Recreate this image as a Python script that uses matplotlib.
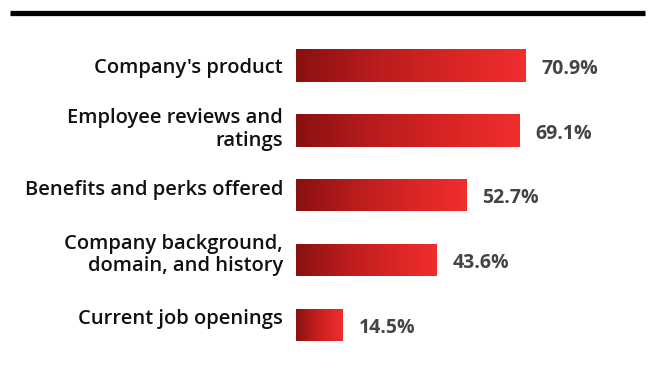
import matplotlib
matplotlib.use("Agg")
import matplotlib.pyplot as plt
import numpy as np
from matplotlib.colors import LinearSegmentedColormap
from matplotlib.patches import Rectangle
from matplotlib.lines import Line2D
from matplotlib.transforms import ScaledTranslation

categories = [
    "Company's product",
    "Employee reviews and\nratings",
    "Benefits and perks offered",
    "Company background,\ndomain, and history",
    "Current job openings",
]
values = [70.9, 69.1, 52.7, 43.6, 14.5]
value_labels = ["70.9%", "69.1%", "52.7%", "43.6%", "14.5%"]

plt.rcParams['font.family'] = ['Open Sans', 'DejaVu Sans']

W, H = 654, 377
fig = plt.figure(figsize=(W / 100, H / 100), dpi=100)
fig.patch.set_facecolor("white")

ax_left = 296 / W
ax_right = 619 / W
ax_top = 1 - 33 / H
ax_bot = 1 - 357.5 / H
ax = fig.add_axes([ax_left, ax_bot, ax_right - ax_left, ax_top - ax_bot])

cmap = LinearSegmentedColormap.from_list(
    "redgrad", ["#8a1010", "#b81c1c", "#d82424", "#f02e2e"])
grad = np.linspace(0, 1, 256).reshape(1, -1)

bar_h = 0.5
for i, v in enumerate(values):
    rect = Rectangle((0, i - bar_h / 2), v, bar_h, facecolor="none",
                     edgecolor="none")
    ax.add_patch(rect)
    im = ax.imshow(grad, cmap=cmap, aspect="auto",
                   extent=[0, v, i + bar_h / 2, i - bar_h / 2],
                   interpolation="bicubic", zorder=2)
    im.set_clip_path(rect)
    ax.text(v + 5, i + 0.05, value_labels[i], ha="left", va="center",
            fontsize=14, fontweight="bold", color="#444444")

ax.set_xlim(0, 100)
ax.set_ylim(4.5, -0.5)
ax.set_yticks(range(len(categories)))
ax.set_yticklabels(categories, fontsize=14.5, fontweight="semibold",
                   color="#111111", linespacing=1.18)
ax.tick_params(axis="y", length=0, pad=9.4)
ax.set_xticks([])
for s in ax.spines.values():
    s.set_visible(False)
ax.set_facecolor("none")

label_shift_px = [0, 5, 7.5, 9, 9]
for lab, shift in zip(ax.get_yticklabels(), label_shift_px):
    lab.set_transform(lab.get_transform() +
                      ScaledTranslation(0, shift / 100, fig.dpi_scale_trans))

line = Line2D([10 / W, 645 / W], [1 - 12.5 / H, 1 - 12.5 / H],
              transform=fig.transFigure, color="black", linewidth=3.8,
              solid_capstyle="butt")
fig.add_artist(line)

fig.savefig("out.png", dpi=100, facecolor="white")
